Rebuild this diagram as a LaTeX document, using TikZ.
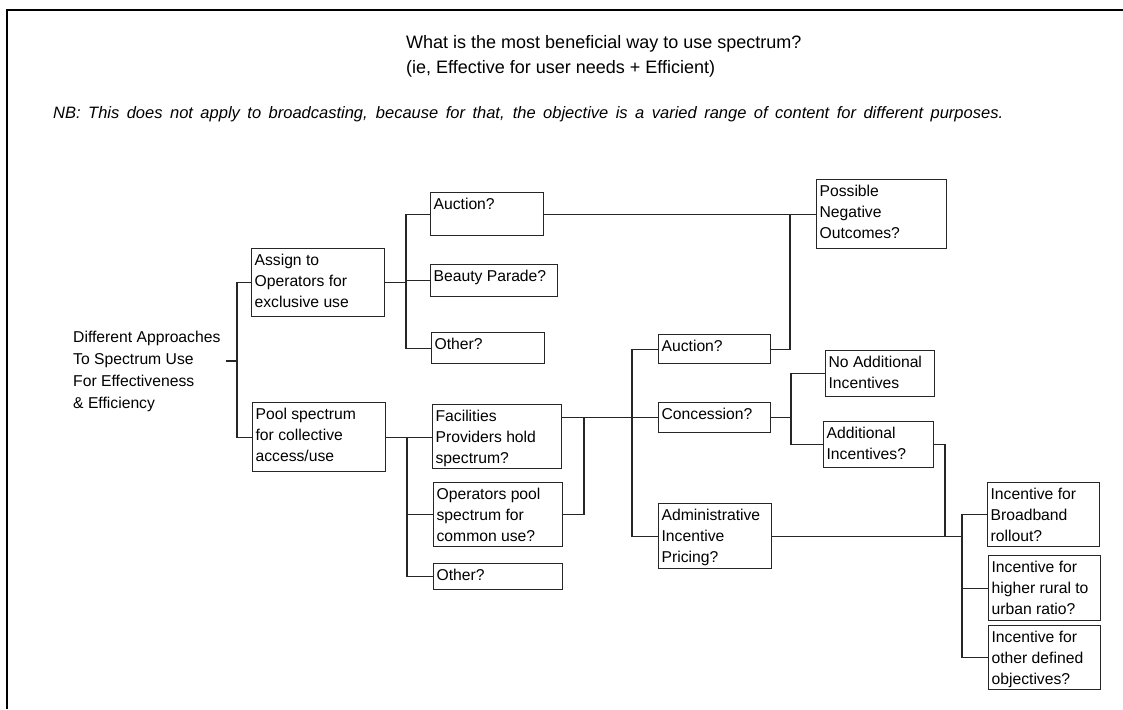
\documentclass[tikz,border=0pt]{standalone}
\usepackage{fontspec}
\setmainfont{Liberation Sans}

% text of a question box, set from the top left
\newcommand{\boxtxt}[3]{\parbox[t][#2][t]{#1}{\raggedright\strut#3}}

\begin{document}
\begin{tikzpicture}[x=1pt, y=-1pt,
    qbox/.style={draw=black!85, line width=1.2pt, anchor=north west,
                 inner xsep=3pt, inner ysep=2pt,
                 font=\fontsize{15.7}{21}\selectfont},
    conn/.style={draw=black!85, line width=1.2pt}]
  \useasboundingbox (0,0) rectangle (1123,709);

  % frame
  \draw[line width=2.5pt] (7,709) -- (7,10) -- (1123,10);

  % heading
  \node[anchor=north west, inner sep=0pt, align=left,
        font=\fontsize{18}{24.5}\selectfont] (title) at (406,35.3)
    {What is the most beneficial way to use spectrum?\\
     (ie, Effective for user needs + Efficient)};
  \node[anchor=base west, inner sep=0pt,
        font=\fontsize{16.5}{20}\selectfont\itshape] (nb) at (53,118)
    {\makebox[950pt][s]{NB: This does not apply to broadcasting, because for that, the objective is a varied range of content for different purposes.}};

  % root
  \node[anchor=north west, inner sep=0pt, align=left,
        font=\fontsize{15.7}{22}\selectfont] (root) at (73,331)
    {Different Approaches\\To Spectrum Use\\For Effectiveness\\\& Efficiency};
  \coordinate (rootout) at (226,361);

  % first level
  \node[qbox] (assign) at (251,248) {\boxtxt{127pt}{64pt}{Assign to\\Operators for\\exclusive use}};
  \node[qbox] (pool)   at (252,402) {\boxtxt{127pt}{65pt}{Pool spectrum\\for collective\\access/use}};

  % exclusive use
  \node[qbox] (auc1)   at (430,192) {\boxtxt{107pt}{39pt}{Auction?}};
  \node[qbox] (beauty) at (430,264) {\boxtxt{121pt}{28pt}{Beauty Parade?}};
  \node[qbox] (oth1)   at (431,332) {\boxtxt{107pt}{27pt}{Other?}};
  \node[qbox] (poss)   at (816,179) {\boxtxt{124pt}{65pt}{Possible\\Negative\\Outcomes?}};

  % collective use
  \node[qbox] (fac)    at (432,404) {\boxtxt{123pt}{60pt}{Facilities\\Providers hold\\spectrum?}};
  \node[qbox] (oppool) at (433,482) {\boxtxt{123pt}{60pt}{Operators pool\\spectrum for\\common use?}};
  \node[qbox] (oth2)   at (433,563) {\boxtxt{123pt}{21.5pt}{Other?}};

  \node[qbox] (auc2)   at (658,334) {\boxtxt{106pt}{25pt}{Auction?}};
  \node[qbox] (conc)   at (658,402) {\boxtxt{106pt}{26pt}{Concession?}};
  \node[qbox] (admin)  at (658,503) {\boxtxt{107pt}{61pt}{Administrative\\Incentive\\Pricing?}};

  \node[qbox] (noadd)  at (825,350) {\boxtxt{103pt}{42pt}{No Additional\\Incentives}};
  \node[qbox] (addinc) at (823,421) {\boxtxt{104pt}{42pt}{Additional\\Incentives?}};

  \node[qbox] (bband)  at (987,482) {\boxtxt{106pt}{60pt}{Incentive for\\Broadband\\rollout?}};
  \node[qbox] (rural)  at (988,555) {\boxtxt{106pt}{61pt}{Incentive for\\higher rural to\\urban ratio?}};
  \node[qbox] (othobj) at (988,625) {\boxtxt{106pt}{60pt}{Incentive for\\other defined\\objectives?}};

  % junctions
  \coordinate (jroot)   at (237,0);
  \coordinate (jassign) at (406,0);
  \coordinate (jpool)   at (407,0);
  \coordinate (jfac)    at (584,0);
  \coordinate (jmethod) at (632,0);
  \coordinate (jneg)    at (790,0);
  \coordinate (jconc)   at (791,0);
  \coordinate (jadd)    at (945,0);
  \coordinate (jadmin)  at (962,0);

  % connectors
  \draw[conn] (rootout) -- (rootout -| jroot);
  \draw[conn] (assign.west) -- (assign.west -| jroot) -- (pool.west -| jroot) -- (pool.west);

  \draw[conn] (assign.east) -- (assign.east -| jassign);
  \draw[conn] (auc1.west) -- (auc1.west -| jassign) -- (oth1.west -| jassign) -- (oth1.west);
  \draw[conn] (beauty.west) -- (beauty.west -| jassign);
  \draw[conn] (auc1.east) -- (poss.west);
  \draw[conn] (auc2.east) -- (auc2.east -| jneg) -- (auc1.east -| jneg);

  \draw[conn] (pool.east) -- (pool.east -| fac.west);
  \draw[conn] (pool.east -| jpool) -- (oth2.west -| jpool) -- (oth2.west);
  \draw[conn] (oppool.west) -- (oppool.west -| jpool);

  \draw[conn] (fac.east |- conc.west) -- (conc.west);
  \draw[conn] (oppool.east) -- (oppool.east -| jfac) -- (conc.west -| jfac);
  \draw[conn] (auc2.west) -- (auc2.west -| jmethod) -- (admin.west -| jmethod) -- (admin.west);

  \draw[conn] (conc.east) -- (conc.east -| jconc);
  \draw[conn] (noadd.west) -- (noadd.west -| jconc) -- (addinc.west -| jconc) -- (addinc.west);
  \draw[conn] (addinc.east) -- (addinc.east -| jadd) -- (admin.east -| jadd);

  \draw[conn] (admin.east) -- (admin.east -| jadmin);
  \draw[conn] (bband.west) -- (bband.west -| jadmin) -- (othobj.west -| jadmin) -- (othobj.west);
  \draw[conn] (rural.west) -- (rural.west -| jadmin);
\end{tikzpicture}
\end{document}
